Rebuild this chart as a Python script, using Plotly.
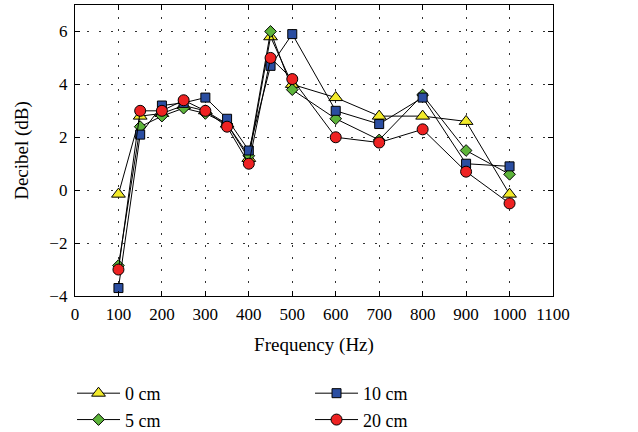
import plotly.graph_objects as go

freq = [100, 150, 200, 250, 300, 350, 400, 450, 500, 600, 700, 800, 900, 1000]
db_0cm = [-0.15, 2.8, 2.9, 3.2, 3.0, 2.5, 1.2, 5.8, 4.0, 3.5, 2.8, 2.8, 2.6, -0.15]
db_5cm = [-2.85, 2.4, 2.8, 3.1, 2.9, 2.5, 1.3, 6.0, 3.8, 2.7, 1.9, 3.6, 1.5, 0.6]
db_10cm = [-3.7, 2.1, 3.2, 3.3, 3.5, 2.7, 1.5, 4.7, 5.9, 3.0, 2.5, 3.5, 1.0, 0.9]
db_20cm = [-3.0, 3.0, 3.0, 3.4, 3.0, 2.4, 1.0, 5.0, 4.2, 2.0, 1.8, 2.3, 0.7, -0.5]

series = [
    ("0 cm", db_0cm, "triangle-up", "#f2ea2a", 12, 1),
    ("5 cm", db_5cm, "diamond", "#5db43a", 9, 3),
    ("10 cm", db_10cm, "square", "#2b4ea1", 9, 2),
    ("20 cm", db_20cm, "circle", "#ee2222", 11, 4),
]

font = "Liberation Serif, Times New Roman, serif"
fig = go.Figure()
for name, vals, sym, col, size, rank in series:
    fig.add_trace(go.Scatter(
        x=freq, y=vals, name=name, mode="lines+markers",
        line=dict(color="black", width=1),
        marker=dict(symbol=sym, color=col, size=size, line=dict(color="black", width=1)),
        legendrank=rank,
    ))

axis_common = dict(
    showline=True, linecolor="black", linewidth=1.3, mirror="ticks",
    ticks="inside", ticklen=5, tickcolor="black",
    showgrid=True, gridcolor="#333333", griddash="2px,10px", gridwidth=1,
    zeroline=False, tickfont=dict(family=font, size=17, color="black"),
)
fig.update_xaxes(range=[0, 1100], dtick=100, tick0=0, ticklabelstandoff=2,
                 title=dict(text="Frequency (Hz)", font=dict(family=font, size=19, color="black"), standoff=15),
                 **axis_common)
fig.update_yaxes(range=[-4, 7], tickvals=[-4, -2, 0, 2, 4, 6], ticklabelstandoff=3,
                 title=dict(text="Decibel (dB)", font=dict(family=font, size=19, color="black"), standoff=15),
                 **axis_common)

fig.update_layout(
    width=638, height=432,
    margin=dict(l=75, r=85, t=5, b=136),
    plot_bgcolor="white", paper_bgcolor="white",
    font=dict(family=font, size=18, color="black"),
    legend=dict(orientation="h", x=0.1129, xref="container", xanchor="left",
                y=0.132, yref="container", yanchor="top",
                itemwidth=43,
                entrywidth=180, entrywidthmode="pixels",
                font=dict(family=font, size=18, color="black"),
                traceorder="normal", tracegroupgap=0),
    showlegend=True,
)
fig.write_html("out.html", config={"displayModeBar": False},
               post_script="document.body.style.margin='0';document.body.style.overflow='hidden';")
